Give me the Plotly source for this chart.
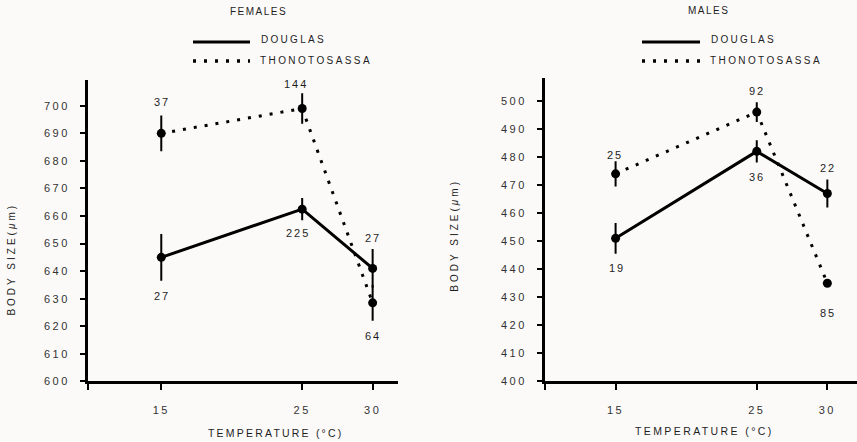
import plotly.graph_objects as go

# ---------------- data ----------------
temps = [15, 25, 30]

fem_douglas = [645, 662.5, 641]
fem_douglas_err = [8.5, 4, 7]
fem_douglas_n = ["27", "225", "27"]

fem_thono = [690, 699, 628.5]
fem_thono_err = [6.5, 5.5, 6.5]
fem_thono_n = ["37", "144", "64"]

male_douglas = [451, 482, 467]
male_douglas_err = [5.5, 4, 5]
male_douglas_n = ["19", "36", "22"]

male_thono = [474, 496, 435]
male_thono_err = [4.5, 3.5, 0]
male_thono_n = ["25", "92", "85"]

fem_yticks = list(range(600, 701, 10))
male_yticks = list(range(400, 501, 10))
x_ticks = [15, 25, 30]

# ---------------- style ----------------
W, H = 857, 442
KY = 0.988  # vertical compensation of the captured page
FONT = "Liberation Sans, Arial, sans-serif"
INK = "#1e1e1e"
BG = "#fcfaf9"
DOT = "3px,8px"


def sp(t, s):
    return f'<span style="letter-spacing:{s}px">{t}</span>'


def px_x(p):
    return p / W


def px_y(p):
    return 1 - (p / KY) / H


fig = go.Figure()


def add(y, err, dash, xa, ya, name):
    fig.add_trace(go.Scatter(
        x=temps, y=y, mode="lines+markers", name=name, xaxis=xa, yaxis=ya,
        line=dict(color="black", width=3, dash=dash),
        marker=dict(color="black", size=9),
        error_y=dict(type="data", array=err, visible=True, thickness=2,
                     width=0, color="black"),
        showlegend=False, hoverinfo="x+y"))


add(fem_douglas, fem_douglas_err, "solid", "x", "y", "DOUGLAS")
add(fem_thono, fem_thono_err, DOT, "x", "y", "THONOTOSASSA")
add(male_douglas, male_douglas_err, "solid", "x2", "y2", "DOUGLAS")
add(male_thono, male_thono_err, DOT, "x2", "y2", "THONOTOSASSA")

tickfont = dict(family=FONT, size=11, color="#333")

x_common = dict(showline=True, linewidth=3, linecolor="black", ticks="outside",
                ticklen=6, tickwidth=2, tickcolor="black", showgrid=False,
                zeroline=False, tickfont=tickfont, ticklabelstandoff=10)
y_common = dict(showline=True, linewidth=3, linecolor="black", ticks="outside",
                ticklen=5, tickwidth=1.5, tickcolor="black", showgrid=False,
                zeroline=False, tickfont=tickfont, ticklabelstandoff=8)

fig.update_layout(
    width=W, height=H, margin=dict(l=0, r=0, t=0, b=0),
    paper_bgcolor=BG, plot_bgcolor=BG, showlegend=False,
    xaxis=dict(domain=[px_x(88), px_x(398)], range=[9.8, 31.8], anchor="y",
               tickvals=[9.8] + x_ticks,
               ticktext=[""] + [sp(v, 2.5) for v in x_ticks], **x_common),
    yaxis=dict(domain=[px_y(382), px_y(80)], range=[600, 709.4], anchor="x",
               tickvals=fem_yticks,
               ticktext=[sp(v, 2.5) for v in fem_yticks], **y_common),
    xaxis2=dict(domain=[px_x(545), 1.0], range=[10.0, 32.1], anchor="y2",
                tickvals=[10.0] + x_ticks,
                ticktext=[""] + [sp(v, 2.5) for v in x_ticks], **x_common),
    yaxis2=dict(domain=[px_y(382), px_y(78)], range=[400, 508.2], anchor="x2",
                tickvals=male_yticks,
                ticktext=[sp(v, 2.5) for v in male_yticks], **y_common),
)

ann = []


def label(text, x, y, size=10, spacing=2, xanchor="center", angle=0, color=INK):
    ann.append(dict(text=sp(text, spacing), x=x, y=y, xref="paper", yref="paper",
                    xanchor=xanchor, yanchor="middle", showarrow=False,
                    textangle=angle, font=dict(family=FONT, size=size, color=color)))


# panel titles
label("FEMALES", px_x(258), px_y(12), size=10, spacing=1.5)
label("MALES", px_x(708), px_y(11), size=10, spacing=1.5)

# legends (lines as shapes, text as annotations)
shapes = []
for (x0, x1, tx) in [(193, 250, 259), (642, 700, 709)]:
    shapes.append(dict(type="line", xref="paper", yref="paper",
                       x0=px_x(x0), x1=px_x(x1), y0=px_y(42), y1=px_y(42),
                       line=dict(color="black", width=3)))
    shapes.append(dict(type="line", xref="paper", yref="paper",
                       x0=px_x(x0), x1=px_x(x1), y0=px_y(61), y1=px_y(61),
                       line=dict(color="black", width=3.5, dash=DOT)))
    label("DOUGLAS", px_x(tx), px_y(40), size=10, spacing=2.3, xanchor="left")
    label("THONOTOSASSA", px_x(tx - 1), px_y(61), size=10, spacing=2.4, xanchor="left")

# axis titles
label("TEMPERATURE (°C)", px_x(275), px_y(434), size=10.5, spacing=2.2)
label("TEMPERATURE (°C)", px_x(704), px_y(432), size=10.5, spacing=2.4)
label("BODY SIZE(<i>μ</i>m)", px_x(12), px_y(260), size=10, spacing=3, angle=-90)
label("BODY SIZE(<i>μ</i>m)", px_x(455), px_y(235), size=10, spacing=3, angle=-90)


# sample-size labels
def nlabels(ns, ys, xa, ya, yshifts, xshifts):
    for t, v, n, ys_, xs_ in zip(temps, ys, ns, yshifts, xshifts):
        ann.append(dict(text=sp(n, 2), x=t, y=v, xref=xa, yref=ya, showarrow=False,
                        yshift=ys_ / KY, xshift=xs_ + 1, xanchor="center",
                        yanchor="middle",
                        font=dict(family=FONT, size=11, color=INK)))


nlabels(fem_douglas_n, fem_douglas, "x", "y", [-38, -24, 30], [0, -5, -1])
nlabels(fem_thono_n, fem_thono, "x", "y", [31, 24, -33], [0, -7, -1])
nlabels(male_douglas_n, male_douglas, "x2", "y2", [-29, -25, 25], [0, -1, 0])
nlabels(male_thono_n, male_thono, "x2", "y2", [19, 21, -29], [-2, -1, 0])

fig.update_layout(annotations=ann, shapes=shapes)

fig.write_html(
    "out.html",
    config={"displayModeBar": False},
    post_script=(
        "document.body.style.margin='0';"
        "document.body.style.overflow='hidden';"
        f"document.body.style.background='{BG}';"
    ),
)
